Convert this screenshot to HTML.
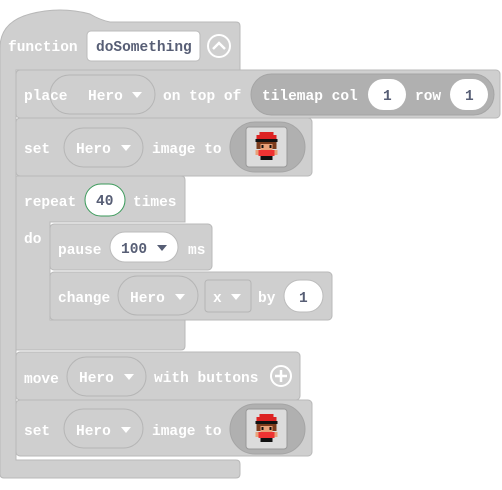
<!DOCTYPE html>
<html><head><meta charset="utf-8"><style>
html,body{margin:0;padding:0;background:#fff;}
svg{display:block}
text{font-family:"Liberation Mono",monospace;font-weight:bold;font-size:14.5px;fill:#fff;dominant-baseline:central;transform:translateY(2px)}
.d{fill:#575e75}
</style></head><body>
<svg width="502" height="490" viewBox="0 0 502 490">
<defs>
<g id="spr">
<rect x="13" y="5" width="14" height="3" fill="#d22"/>
<rect x="10" y="8" width="20" height="4" fill="#d22"/>
<rect x="9" y="12" width="22" height="3" fill="#111"/>
<rect x="10" y="15" width="20" height="7" fill="#7a3b1c"/>
<rect x="14" y="17" width="12" height="6" fill="#e8a27a"/>
<rect x="15" y="18" width="2" height="3" fill="#111"/>
<rect x="23" y="18" width="2" height="3" fill="#111"/>
<rect x="12" y="23" width="16" height="6" fill="#e33"/>
<rect x="9" y="23" width="3" height="5" fill="#e8a27a"/>
<rect x="28" y="23" width="3" height="5" fill="#e8a27a"/>
<rect x="14" y="29" width="12" height="4" fill="#111"/>
</g>
</defs>
<path d="M0,48 Q0,22 30,14 Q60,6 90,14 Q100,20 110,22 L236,22 Q240,22 240,26 L240,70 L16,70 L16,460 L236,460 Q240,460 240,464 L240,474 Q240,478 236,478 L4,478 Q0,478 0,474 Z" fill="#cfcfcf" stroke="#b8b8b8"/>
<text x="8" y="46">function</text>
<rect x="87" y="31" width="113" height="30" rx="4" fill="#fff" stroke="#bbb"/>
<text x="96" y="46" class="d">doSomething</text>
<circle cx="219" cy="46" r="11" fill="none" stroke="#fff" stroke-width="2"/>
<path d="M213,49 L219,43 L225,49" fill="none" stroke="#fff" stroke-width="2.5"/>

<rect x="16" y="70" width="484" height="48" rx="4" fill="#cfcfcf" stroke="#b8b8b8"/>
<rect x="50" y="75" width="105" height="39" rx="19.5" fill="#cfcfcf" stroke="#b5b5b5"/>
<text x="24" y="95">place</text>
<text x="88" y="95">Hero</text><path d="M132,92 L142,92 L137,98 Z" fill="#fff"/>
<text x="163" y="95">on top of</text>
<rect x="251" y="74" width="243" height="41" rx="20.5" fill="#b0b0b0" stroke="#a5a5a5"/>
<text x="262" y="95">tilemap col</text>
<rect x="368" y="79" width="38" height="31" rx="15.5" fill="#fff"/>
<text x="383" y="95" class="d">1</text>
<text x="415" y="95">row</text>
<rect x="450" y="79" width="38" height="31" rx="15.5" fill="#fff"/>
<text x="465" y="95" class="d">1</text>

<rect x="16" y="118" width="296" height="58" rx="4" fill="#cfcfcf" stroke="#b8b8b8"/>
<text x="24" y="148">set</text>
<rect x="64" y="128" width="79" height="39" rx="19.5" fill="#cfcfcf" stroke="#b5b5b5"/>
<text x="76" y="148">Hero</text><path d="M121,145 L131,145 L126,151 Z" fill="#fff"/>
<text x="152" y="148">image to</text>
<rect x="230" y="122" width="75" height="50" rx="25" fill="#b0b0b0" stroke="#a5a5a5"/>
<rect x="246" y="127" width="41" height="40" rx="3" fill="#dcdcdc" stroke="#999"/>
<use href="#spr" transform="translate(246.5,127)"/>

<path d="M16,176 L181,176 Q185,176 185,180 L185,222 L50,222 L50,320 L185,320 L185,346 Q185,350 181,350 L16,350 Z" fill="#cfcfcf" stroke="#b8b8b8"/>
<text x="24" y="201">repeat</text>
<rect x="85" y="184" width="40" height="32" rx="16" fill="#fff" stroke="#3a9a5a"/>
<text x="96" y="200" class="d">40</text>
<text x="133" y="201">times</text>
<text x="24" y="238">do</text>

<rect x="50" y="224" width="162" height="46" rx="4" fill="#cfcfcf" stroke="#b8b8b8"/>
<text x="58" y="249">pause</text>
<rect x="110" y="232" width="68" height="30" rx="15" fill="#fff" stroke="#bbb"/>
<text x="121" y="248" class="d">100</text><path d="M157,245 L167,245 L162,251 Z" fill="#575e75"/>
<text x="188" y="249">ms</text>

<rect x="50" y="272" width="282" height="48" rx="4" fill="#cfcfcf" stroke="#b8b8b8"/>
<text x="58" y="297">change</text>
<rect x="118" y="276" width="80" height="39" rx="19.5" fill="#cfcfcf" stroke="#b5b5b5"/>
<text x="130" y="297">Hero</text><path d="M175,294 L185,294 L180,300 Z" fill="#fff"/>
<rect x="205" y="280" width="46" height="32" rx="3" fill="#cfcfcf" stroke="#b5b5b5"/>
<text x="213" y="297">x</text><path d="M231,294 L241,294 L236,300 Z" fill="#fff"/>
<text x="258" y="297">by</text>
<rect x="284" y="280" width="39" height="32" rx="16" fill="#fff" stroke="#bbb"/>
<text x="299" y="297" class="d">1</text>

<rect x="16" y="352" width="284" height="48" rx="4" fill="#cfcfcf" stroke="#b8b8b8"/>
<text x="24" y="378">move</text>
<rect x="67" y="357" width="79" height="39" rx="19.5" fill="#cfcfcf" stroke="#b5b5b5"/>
<text x="79" y="377">Hero</text><path d="M124,374 L134,374 L129,380 Z" fill="#fff"/>
<text x="154" y="377">with buttons</text>
<circle cx="281" cy="376" r="10" fill="none" stroke="#fff" stroke-width="2"/>
<path d="M281,370 L281,382 M275,376 L287,376" stroke="#fff" stroke-width="2.5"/>

<rect x="16" y="400" width="296" height="56" rx="4" fill="#cfcfcf" stroke="#b8b8b8"/>
<text x="24" y="430">set</text>
<rect x="64" y="409" width="79" height="39" rx="19.5" fill="#cfcfcf" stroke="#b5b5b5"/>
<text x="76" y="430">Hero</text><path d="M121,427 L131,427 L126,433 Z" fill="#fff"/>
<text x="152" y="430">image to</text>
<rect x="230" y="404" width="75" height="50" rx="25" fill="#b0b0b0" stroke="#a5a5a5"/>
<rect x="246" y="409" width="41" height="40" rx="3" fill="#dcdcdc" stroke="#999"/>
<use href="#spr" transform="translate(246.5,409)"/>
</svg>
</body></html>
